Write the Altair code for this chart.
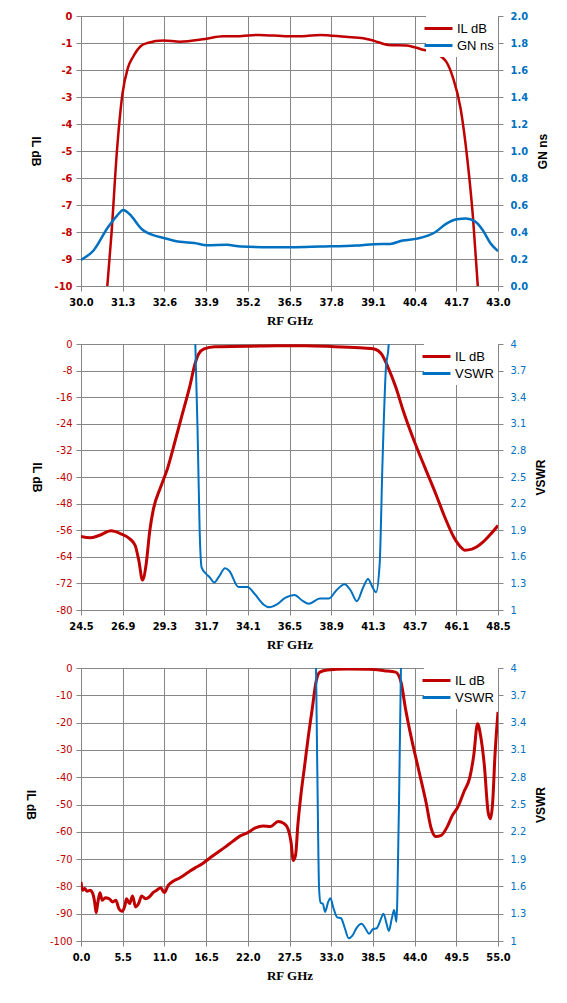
import altair as alt
import pandas as pd

RED = "#C00000"
BLUE = "#0070C0"
GRID = "#868686"
TICKFONT = "DejaVu Sans Condensed, DejaVu Sans"

# ---------------- Panel 1 : IL dB / GN ns ----------------
p1_il_f = [30.70, 30.82, 30.95, 31.12, 31.29, 31.46, 31.63, 31.85, 32.07, 32.58, 33.08,
           33.87, 34.43, 34.88, 35.55, 36.45, 36.90, 37.45, 38.24, 38.80, 39.14, 39.58,
           40.15, 40.60, 41.04, 41.38, 41.60, 41.83, 42.05, 42.22, 42.37, 42.50]
p1_il_db = [-11.6, -10.0, -8.07, -5.0, -2.9, -1.93, -1.5, -1.13, -1.0, -0.91, -0.95,
            -0.85, -0.75, -0.75, -0.70, -0.75, -0.75, -0.70, -0.77, -0.82, -0.92, -1.07,
            -1.09, -1.23, -1.38, -1.68, -2.3, -3.4, -5.37, -7.46, -10.0, -11.8]
p1_gn_f = [30.0, 30.39, 30.84, 31.12, 31.32, 31.51, 31.9, 32.3, 32.58, 33.08, 33.53,
           33.92, 34.54, 34.99, 35.89, 36.56, 37.45, 38.58, 39.14, 39.64, 40.03, 40.48,
           41.04, 41.38, 41.72, 42.0, 42.28, 42.5, 42.78, 43.0]
p1_gn_ns = [0.194, 0.263, 0.435, 0.52, 0.563, 0.533, 0.42, 0.373, 0.356, 0.327, 0.319,
            0.302, 0.305, 0.292, 0.287, 0.287, 0.292, 0.300, 0.31, 0.312, 0.337, 0.351,
            0.398, 0.46, 0.494, 0.50, 0.479, 0.423, 0.312, 0.258]
p1_x_ticks = [30.0, 31.3, 32.6, 33.9, 35.2, 36.5, 37.8, 39.1, 40.4, 41.7, 43.0]
p1_y_ticks = [0, -1, -2, -3, -4, -5, -6, -7, -8, -9, -10]
p1_y2_ticks = [0.0, 0.2, 0.4, 0.6, 0.8, 1.0, 1.2, 1.4, 1.6, 1.8, 2.0]

# ---------------- Panel 2 : IL dB / VSWR ----------------
p2_il_f = [24.5, 25.02, 25.54, 26.23, 26.79, 27.31, 27.62, 27.83, 28.04, 28.25, 28.46,
           28.67, 29.08, 29.5, 29.92, 30.33, 30.75, 31.06, 31.27, 31.58, 32.21, 34.08,
           35.75, 37.42, 39.08, 40.75, 41.38, 41.79, 42.17, 42.62, 43.04, 43.67, 44.29,
           44.92, 45.44, 45.96, 46.38, 46.58, 47.0, 47.63, 48.04, 48.5]
p2_il_db = [-57.9, -58.3, -57.6, -56.2, -57.1, -58.6, -60.6, -65.2, -71.0, -66.2, -56.1,
            -49.6, -43.1, -37.1, -29.1, -21.1, -13.0, -6.0, -3.0, -1.5, -0.8, -0.7,
            -0.5, -0.5, -0.8, -1.2, -1.5, -3.0, -7.0, -13.0, -20.0, -29.1, -37.1,
            -45.1, -52.1, -58.1, -61.2, -62.0, -61.7, -59.6, -57.4, -54.6]
p2_vs_f = [30.9, 31.08, 31.21, 31.33, 31.44, 31.69, 31.9, 32.17, 32.42, 32.79, 33.04,
           33.56, 34.08, 34.5, 35.02, 35.33, 35.75, 36.27, 36.79, 37.21, 37.62, 38.25,
           38.77, 39.19, 39.67, 40.02, 40.38, 40.75, 41.02, 41.27, 41.48, 41.69, 41.85,
           42.04, 42.21, 42.4]
p2_vswr = [6.0, 4.0, 3.02, 1.89, 1.48, 1.41, 1.37, 1.31, 1.37, 1.47, 1.44,
           1.26, 1.26, 1.18, 1.06, 1.03, 1.06, 1.14, 1.17, 1.11, 1.07, 1.13,
           1.13, 1.22, 1.29, 1.22, 1.10, 1.26, 1.35, 1.26, 1.20, 1.52, 2.65,
           3.7, 4.0, 6.0]
p2_x_ticks = [24.5, 26.9, 29.3, 31.7, 34.1, 36.5, 38.9, 41.3, 43.7, 46.1, 48.5]
p2_y_ticks = [0, -8, -16, -24, -32, -40, -48, -56, -64, -72, -80]
vswr_ticks = [1, 1.3, 1.6, 1.9, 2.2, 2.5, 2.8, 3.1, 3.4, 3.7, 4]

# ---------------- Panel 3 : IL dB / VSWR (wide band) ----------------
p3_il_f = [0.0, 0.2, 0.5, 0.8, 1.2, 1.5, 1.8, 2.0, 2.2, 2.5, 2.8, 3.2, 3.7, 4.2, 4.6,
           5.0, 5.4, 5.8, 6.0, 6.4, 6.8, 7.2, 7.6, 8.0, 8.5, 9.0, 9.5, 10.0, 10.5,
           11.0, 11.5, 12.0, 13.0, 14.0, 15.0, 16.0, 17.0, 18.0, 19.0, 20.0, 21.0,
           22.0, 23.0, 24.0, 25.0, 26.0, 26.8, 27.3, 27.7, 28.0, 28.3, 28.6, 29.0,
           29.5, 30.0, 30.5, 31.0, 31.5, 32.5, 35.0, 38.0, 40.0, 41.5, 42.2, 42.8,
           43.5, 44.5, 45.5, 46.2, 46.8, 47.5, 48.3, 49.0, 49.7, 50.5, 51.3, 51.8,
           52.3, 52.7, 53.2, 53.7, 54.0, 54.3, 54.6, 55.0]
p3_il_db = [-78.4, -81.4, -80.8, -81.8, -81.4, -82.3, -85.7, -89.6, -86.3, -82.3, -85.1,
            -84.2, -84.5, -85.7, -85.1, -88.2, -89.1, -86.9, -84.5, -86.3, -83.5, -87.5,
            -86.3, -83.5, -84.5, -83.9, -82.3, -81.4, -80.5, -82.3, -79.6, -78.4, -76.9,
            -75.1, -73.3, -71.7, -69.6, -67.6, -65.6, -63.5, -61.5, -60.3, -58.6, -57.9,
            -58.1, -56.2, -57.0, -58.9, -63.7, -70.5, -68.6, -57.6, -46.6, -35.7, -24.7,
            -14.9, -5.1, -1.5, -0.7, -0.4, -0.5, -1.0, -1.5, -5.1, -14.9, -24.7, -36.9,
            -49.1, -58.9, -61.7, -61.3, -58.2, -53.9, -50.9, -45.4, -39.9, -32.0, -20.4,
            -24.7, -35.7, -52.8, -55.2, -49.1, -32.0, -16.1]
p3_vs_f = [30.7, 31.0, 31.2, 31.4, 31.6, 31.9, 32.2, 32.6, 32.9, 33.3, 33.8, 34.3, 34.8,
           35.3, 35.8, 36.4, 37.0, 37.5, 38.0, 38.5, 39.0, 39.5, 39.9, 40.3, 40.6,
           41.0, 41.3, 41.6, 41.9, 42.2, 42.4]
p3_vswr = [6.0, 4.0, 2.67, 1.58, 1.42, 1.41, 1.32, 1.43, 1.47, 1.36, 1.26, 1.25, 1.14,
           1.03, 1.06, 1.15, 1.19, 1.14, 1.08, 1.13, 1.14, 1.23, 1.30, 1.19, 1.11,
           1.25, 1.34, 1.21, 2.31, 4.0, 6.0]
p3_x_ticks = [0.0, 5.5, 11.0, 16.5, 22.0, 27.5, 33.0, 38.5, 44.0, 49.5, 55.0]
p3_y_ticks = [0, -10, -20, -30, -40, -50, -60, -70, -80, -90, -100]


def panel(il_f, il_v, s_f, s_v, s_name, xdom, xticks, ydom, yticks, y2dom, y2ticks,
          y2_label_expr, height, bold_y, il_w, s_w):
    df1 = pd.DataFrame({"f": il_f, "v": il_v, "series": "IL dB"})
    df2 = pd.DataFrame({"f": s_f, "v": s_v, "series": s_name})
    ywt = "bold" if bold_y else "normal"
    xenc = alt.X("f:Q", scale=alt.Scale(domain=xdom, nice=False, zero=False),
                 axis=alt.Axis(values=xticks, format=".1f", title="RF GHz",
                               labelFont=TICKFONT, labelFontSize=11, labelFontWeight="bold",
                               labelColor="black", labelPadding=5, labelFlush=False,
                               titleFont="Liberation Serif", titleFontSize=13,
                               titleFontWeight="bold", titleColor="black", titlePadding=7,
                               grid=True, gridColor=GRID, gridWidth=1, gridOpacity=1,
                               domainColor=GRID, tickColor=GRID, tickSize=5))
    color = alt.Color("series:N",
                      scale=alt.Scale(domain=["IL dB", s_name], range=[RED, BLUE]),
                      legend=alt.Legend(title=None, orient="top-right", offset=0,
                                        padding=4, fillColor="white",
                                        symbolType="M-2,0H2", symbolSize=196,
                                        symbolStrokeWidth=3, labelFont="Liberation Sans",
                                        labelFontSize=13, labelColor="black",
                                        rowPadding=1, labelOffset=10))
    l1 = alt.Chart(df1).mark_line(clip=True, strokeWidth=il_w, interpolate="monotone").encode(
        x=xenc,
        y=alt.Y("v:Q", scale=alt.Scale(domain=ydom, nice=False, zero=False),
                axis=alt.Axis(values=yticks, labelExpr="'' + datum.value", title="IL dB",
                              orient="left", labelFont=TICKFONT, labelFontSize=11,
                              labelFontWeight=ywt, labelColor=RED, labelPadding=4,
                              titleFont="Liberation Sans", titleFontSize=12,
                              titleFontWeight="bold", titleColor="black", titleAngle=90,
                              titleBaseline="top", titlePadding=14,
                              grid=True, gridColor=GRID, gridWidth=1, gridOpacity=1,
                              domainColor=GRID, tickColor=GRID, tickSize=5)),
        color=color,
    )
    l2 = alt.Chart(df2).mark_line(clip=True, strokeWidth=s_w, interpolate="monotone").encode(
        x=xenc,
        y=alt.Y("v:Q", scale=alt.Scale(domain=y2dom, nice=False, zero=False),
                axis=alt.Axis(values=y2ticks, labelExpr=y2_label_expr, title=s_name,
                              orient="right", labelFont=TICKFONT, labelFontSize=11,
                              labelFontWeight=ywt, labelColor=BLUE, labelPadding=7,
                              titleFont="Liberation Sans", titleFontSize=12,
                              titleFontWeight="bold", titleColor="black", titleAngle=270,
                              titleBaseline="top", titlePadding=10,
                              grid=False, domainColor=GRID, tickColor=GRID, tickSize=5)),
        color=color,
    )
    return alt.layer(l1, l2).resolve_scale(y="independent").properties(
        width=417, height=height)


c1 = panel(p1_il_f, p1_il_db, p1_gn_f, p1_gn_ns, "GN ns", [30.0, 43.0], p1_x_ticks,
           [-10, 0], p1_y_ticks, [0, 2], p1_y2_ticks, "format(datum.value, '.1f')",
           270, True, 2.5, 2.5)
c2 = panel(p2_il_f, p2_il_db, p2_vs_f, p2_vswr, "VSWR", [24.5, 48.5], p2_x_ticks,
           [-80, 0], p2_y_ticks, [1, 4], vswr_ticks, "'' + datum.value",
           266, False, 3, 2)
c3 = panel(p3_il_f, p3_il_db, p3_vs_f, p3_vswr, "VSWR", [0.0, 55.0], p3_x_ticks,
           [-100, 0], p3_y_ticks, [1, 4], vswr_ticks, "'' + datum.value",
           273, False, 3, 2)

chart = alt.vconcat(c1, c2, c3, spacing=9).resolve_scale(
    color="independent").resolve_legend(color="independent").properties(
    padding={"top": 1, "left": 16, "right": 5, "bottom": 5}
).configure_view(stroke=None).configure(background="white")

chart.save("out.html", embed_options={"renderer": "svg", "actions": False})
